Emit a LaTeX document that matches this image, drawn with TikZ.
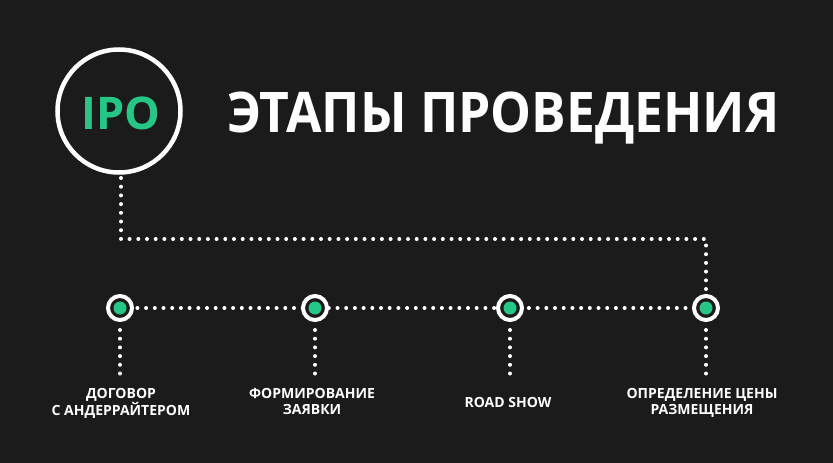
\documentclass[tikz,border=0pt]{standalone}
\usepackage{fontspec}
\usetikzlibrary{calc}
\setmainfont{Open Sans}
\definecolor{bg}{RGB}{27,27,27}
\definecolor{ipogreen}{RGB}{38,199,134}
\begin{document}
\begin{tikzpicture}[x=1pt,y=-1pt,
  dotline/.style={white,line width=4pt,line cap=round,dash pattern=on 0pt off 8.7pt},
  stage/.style={circle,draw=white,line width=4pt,fill=bg,minimum size=24pt,inner sep=0pt},
  lbl/.style={white,font=\fontsize{14}{16}\selectfont\bfseries,align=center,anchor=north,inner sep=0pt}]
\useasboundingbox (0,0) rectangle (833,463);
\fill[bg] (0,0) rectangle (833,463);
% big circle
\node[circle,draw=white,line width=4.5pt,minimum size=123pt,inner sep=0pt] (ipo) at (119,111) {};
\node[ipogreen,font=\fontsize{45}{45}\selectfont\bfseries,anchor=base,inner sep=0pt] (ipotext) at (121,129) {IPO};
\node[white,font=\fontsize{56}{56}\selectfont\bfseries,anchor=base west,inner sep=0pt] (title) at (227,132) {\scalebox{0.92}[1]{ЭТАПЫ ПРОВЕДЕНИЯ}};
% coordinates
\coordinate (c1) at (121,239);
\coordinate (c2) at (706,239);
\coordinate (p1) at (120,308);
\coordinate (p2) at (315,308);
\coordinate (p3) at (510,308);
\coordinate (p4) at (706,308);
% horizontal line
\draw[dotline] (p1) -- (p4);
\draw[dotline] (121,178) -- (c1) -- (c2) -- (706,294);
\foreach \i in {1,2,3,4}{
  \node[stage] (n\i) at (p\i) {};
  \fill[ipogreen] (n\i.center) circle (6.5pt);
}
% labels
\node[lbl] (l1) at (121,388) {ДОГОВОР\\С АНДЕРРАЙТЕРОМ};
\node[lbl] (l2) at (312,388) {ФОРМИРОВАНИЕ\\ЗАЯВКИ};
\node[lbl] (l3) at (508,397) {ROAD SHOW};
\node[lbl] (l4) at (702,388) {ОПРЕДЕЛЕНИЕ ЦЕНЫ\\РАЗМЕЩЕНИЯ};
\foreach \i in {1,2,3,4}{
  \draw[dotline] ($(n\i.center)+(0,22)$) -- ++(0,46);
}
\end{tikzpicture}
\end{document}
